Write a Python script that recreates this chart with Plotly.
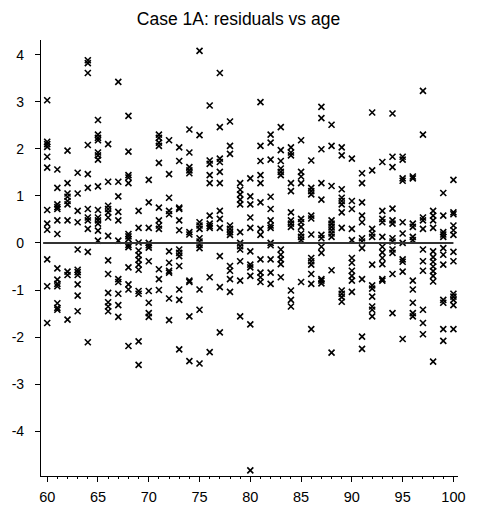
import plotly.graph_objects as go

ages = [60, 61, 62, 63, 64, 65, 66, 67, 68, 69, 70, 71, 72, 73, 74, 75, 76, 77, 78, 79, 80,
        81, 82, 83, 84, 85, 86, 87, 88, 89, 90, 91, 92, 93, 94, 95, 96, 97, 98, 99, 100]

residuals = [
    [3.03, 2.15, 2.1, 2.04, 1.83, 1.6, 0.7, 0.41, 0.28, -0.35, -0.92, -1.7],
    [1.56, 1.17, 0.82, 0.76, 0.72, 0.48, 0.19, -0.54, -0.78, -0.87, -0.92, -1.28, -1.38, -1.42],
    [1.96, 1.27, 1.05, 0.98, 0.89, 0.82, 0.48, -0.61, -0.68, -1.63],
    [1.49, 1.05, 0.68, 0.44, -0.14, -0.57, -0.62, -0.68, -0.88, -1.12, -1.45],
    [3.88, 3.82, 3.61, 2.08, 1.46, 1.17, 0.72, 0.54, 0.48, 0.3, -0.19, -2.11],
    [2.61, 2.3, 2.23, 2.18, 1.92, 1.86, 1.77, 1.2, 0.7, 0.54, 0.48, 0.41, 0.26, 0.05],
    [2.1, 1.3, 0.79, 0.72, 0.65, 0.54, 0.15, -0.37, -0.66, -1.06, -1.26, -1.35, -1.45],
    [3.42, 1.3, 0.99, 0.66, 0.48, 0.05, -0.77, -0.83, -1.08, -1.32, -1.57],
    [2.7, 1.94, 1.44, 1.39, 1.27, 0.19, 0.14, 0.08, -0.04, -0.09, -0.52, -0.88, -0.99, -2.19],
    [0.68, 0.32, 0.01, -0.16, -0.26, -0.36, -0.46, -0.57, -1.02, -1.08, -2.09, -2.59],
    [1.34, 0.86, 0.32, 0.0, -0.05, -0.1, -0.39, -1.02, -1.27, -1.49, -1.57],
    [2.3, 2.23, 2.13, 2.06, 1.7, 0.75, 0.48, 0.37, 0.3, -0.56, -0.77, -1.0],
    [2.18, 1.46, 0.96, 0.68, 0.61, -0.18, -0.42, -0.59, -0.63, -1.18, -1.64],
    [2.03, 1.74, 0.75, 0.72, 0.48, 0.27, -0.14, -0.21, -0.28, -0.49, -0.99, -1.21, -2.26],
    [2.41, 1.92, 1.61, 1.54, 1.48, 0.23, 0.18, -0.8, -0.83, -1.56, -2.51],
    [4.08, 2.29, 0.44, 0.37, 0.3, 0.1, 0.03, -0.04, -0.11, -0.99, -1.42, -2.56],
    [2.92, 1.75, 1.68, 1.44, 1.27, 0.58, 0.41, 0.36, 0.32, -0.73, -2.32],
    [3.61, 2.46, 1.79, 1.72, 1.51, 1.27, 0.68, 0.51, 0.32, -0.28, -0.94, -1.9],
    [2.58, 2.06, 1.89, 0.37, 0.3, 0.23, 0.17, -0.49, -0.59, -0.77, -1.04],
    [1.27, 1.13, 1.03, 0.92, 0.82, 0.23, 0.0, -0.07, -0.14, -0.39, -0.8, -1.56],
    [1.37, 0.99, 0.82, 0.54, 0.32, -0.18, -0.46, -0.52, -0.7, -1.73, -4.83],
    [2.99, 2.06, 1.74, 1.44, 1.27, 0.86, 0.3, 0.17, -0.35, -0.63, -0.73, -0.83],
    [2.3, 2.13, 1.77, 0.98, 0.72, 0.48, 0.37, 0.32, 0.0, -0.05, -0.35, -0.63, -0.87],
    [2.46, 1.97, 1.74, 1.58, 1.51, 1.44, -0.14, -0.25, -0.35, -0.45, -0.73],
    [2.03, 1.92, 1.86, 1.27, 1.1, 0.65, 0.48, 0.41, 0.34, -1.01, -1.21, -1.35],
    [2.18, 1.51, 1.41, 1.27, 0.51, 0.44, 0.34, 0.2, 0.13, 0.06, -0.83],
    [1.75, 1.17, 1.1, 1.03, 0.58, 0.52, 0.18, -0.32, -0.39, -0.46, -0.66, -0.87, -1.83],
    [2.89, 2.65, 1.99, 1.27, 0.92, 0.17, 0.1, -0.08, -0.21, -0.77, -0.8, -0.86],
    [2.51, 2.06, 1.21, 0.48, 0.41, 0.34, 0.27, 0.2, 0.13, -0.58, -2.33],
    [2.03, 1.86, 1.14, 0.96, 0.89, 0.82, 0.65, 0.32, -1.01, -1.08, -1.15, -1.25],
    [1.79, 0.89, 0.72, 0.3, 0.06, -0.32, -0.42, -0.59, -0.7, -0.8, -1.04],
    [1.48, 1.27, 0.86, 0.58, 0.44, 0.1, 0.03, -0.11, -0.77, -1.99, -2.25],
    [2.77, 1.54, 0.3, 0.2, 0.13, -0.46, -0.9, -0.97, -1.14, -1.35, -1.42, -1.56],
    [1.72, 0.68, 0.51, 0.44, 0.13, -0.08, -0.2, -0.32, -0.45, -0.77, -0.8],
    [2.75, 1.83, 1.61, 0.73, 0.48, 0.41, 0.1, 0.03, -0.14, -0.21, -0.66, -1.49],
    [1.83, 1.77, 1.37, 1.32, 0.44, 0.2, 0.0, -0.35, -0.4, -0.61, -2.04],
    [1.41, 1.37, 0.41, 0.34, 0.13, 0.06, -0.8, -0.99, -1.27, -1.49, -1.56],
    [3.23, 2.3, 0.54, 0.48, 0.3, -0.14, -0.39, -0.59, -1.42, -1.7, -1.94],
    [0.68, 0.58, 0.48, 0.32, -0.18, -0.3, -0.4, -0.5, -0.6, -0.7, -0.82, -2.52],
    [1.06, 0.58, 0.23, 0.18, 0.13, -0.11, -0.25, -0.46, -1.21, -1.27, -1.83, -2.08],
    [1.34, 0.65, 0.61, 0.37, 0.27, 0.17, -0.19, -0.39, -1.08, -1.14, -1.21, -1.32, -1.83],
]

x_ticks = [60, 65, 70, 75, 80, 85, 90, 95, 100]
y_ticks = [-4, -3, -2, -1, 0, 1, 2, 3, 4]
title_text = "Case 1A: residuals vs age"

xs, ys = [], []
for a, vals in zip(ages, residuals):
    for v in vals:
        xs.append(a)
        ys.append(v)

fig = go.Figure()
fig.add_trace(go.Scatter(
    x=xs, y=ys, mode="markers",
    marker=dict(symbol="x-thin", size=6, color="black",
                line=dict(width=1.6, color="black")),
    showlegend=False, hoverinfo="skip",
))

fig.add_shape(type="line", xref="x", yref="y", x0=59.6, x1=100, y0=0, y1=0,
              line=dict(color="#333333", width=2))

font_family = "Liberation Sans, Arial, Helvetica, sans-serif"
fig.update_layout(
    width=477, height=517,
    margin=dict(l=37, r=15, t=40, b=30),
    paper_bgcolor="white", plot_bgcolor="white",
    title=dict(text=title_text, x=0.5, xanchor="center", y=1 - 19 / 517,
               yanchor="middle", font=dict(family=font_family, size=17.5, color="black")),
    font=dict(family=font_family, color="black"),
)
fig.update_xaxes(
    range=[59.39, 100.45], tickvals=x_ticks, ticktext=[str(t) for t in x_ticks],
    showgrid=False, zeroline=False, showline=True, linecolor="black", linewidth=1.2,
    ticks="outside", ticklen=5, tickwidth=1, tickcolor="black",
    tickfont=dict(size=14.5, family=font_family), ticklabelstandoff=2,
    minor=dict(ticks="outside", ticklen=2, dtick=1, tick0=60, tickcolor="black", showgrid=False),
)
fig.update_yaxes(
    range=[-4.95, 4.31], tickvals=y_ticks, ticktext=[str(t) for t in y_ticks],
    showgrid=False, zeroline=False, showline=True, linecolor="black", linewidth=1.2,
    ticks="outside", ticklen=5, tickwidth=1, tickcolor="black",
    tickfont=dict(size=14, family=font_family), ticklabelstandoff=8,
)

fig.write_html("out.html")
